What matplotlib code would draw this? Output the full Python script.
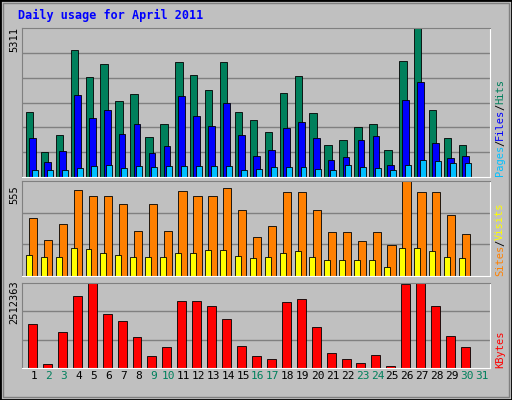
import matplotlib
matplotlib.use("Agg")
import matplotlib.pyplot as plt
import numpy as np

days = list(range(1, 31))
tick_labels = [str(d) for d in range(1, 32)]
weekend = [2, 3, 9, 10, 16, 17, 23, 24, 30, 31]

hits = [2317, 891, 1497, 4527, 3564, 4027, 2709, 2958, 1426, 1889, 4099, 3636, 3101, 4099, 2317,
        2032, 1604, 2994, 3600, 2281, 1141, 1319, 1782, 1889, 962, 4135, 5311, 2388, 1390, 1141]
files = [1390, 535, 927, 2922, 2103, 2388, 1533, 1889, 855, 1105, 2887, 2174, 1818, 2637, 1497,
         748, 962, 1746, 1960, 1390, 606, 713, 1319, 1461, 428, 2744, 3386, 1212, 677, 748]
pages = [249, 249, 249, 321, 392, 428, 321, 392, 356, 392, 392, 392, 392, 392, 249,
         285, 356, 356, 356, 285, 249, 428, 356, 321, 249, 428, 606, 570, 499, 499]
visits = [338, 211, 302, 501, 465, 465, 422, 265, 422, 265, 495, 465, 465, 513, 386,
          229, 290, 489, 489, 386, 259, 259, 205, 259, 181, 555, 489, 489, 356, 247]
sites = [121, 109, 109, 163, 157, 133, 121, 109, 109, 109, 133, 133, 151, 151, 115,
         103, 109, 133, 145, 109, 96, 96, 96, 96, 54, 163, 163, 145, 109, 103]
kbytes = [1286087, 119636, 1076724, 2123539, 2512363, 1585177, 1375814, 927179, 358908, 628089,
          1973994, 1973994, 1824449, 1435632, 658000, 358908, 269181, 1944085, 2033812, 1226269,
          448635, 269181, 149545, 388817, 59818, 2482454, 2512363, 1824449, 957088, 628089]

W, H = 512, 400
bg = "#c0c0c0"
fig = plt.figure(figsize=(W / 100, H / 100), dpi=100, facecolor=bg)

# outer bevel
fig.add_artist(plt.Rectangle((0, 0), 1, 1, transform=fig.transFigure, fill=False,
                             edgecolor="black", lw=2))
fig.add_artist(plt.Rectangle((3 / W, 3 / H), 1 - 6 / W, 1 - 6 / H, transform=fig.transFigure,
                             fill=False, edgecolor="#808080", lw=1))

x0, x1 = 22, 490
xlo = 1 - 12 / 14.93
xhi = 1 + 456 / 14.93


def panel(top, bottom, ymax, ndiv):
    ax = fig.add_axes([x0 / W, 1 - bottom / H, (x1 - x0) / W, (bottom - top) / H])
    ax.set_facecolor(bg)
    ax.set_xlim(xlo, xhi)
    ax.set_ylim(0, ymax)
    for k in range(1, ndiv):
        ax.axhline(ymax * k / ndiv, color="#808080", lw=1, zorder=0)
    ax.set_xticks([])
    ax.set_yticks([])
    for s in ["top", "left"]:
        ax.spines[s].set_color("#808080")
    for s in ["bottom", "right"]:
        ax.spines[s].set_color("white")
    return ax


d = np.array(days)
ax1 = panel(28, 177, 5311, 6)
ax1.bar(d - 0.3, hits, width=0.5, color="#00805c", edgecolor="black", lw=0.6)
ax1.bar(d - 0.1, files, width=0.45, color="#0000ff", edgecolor="black", lw=0.6)
ax1.bar(d + 0.05, pages, width=0.4, color="#00c0ff", edgecolor="black", lw=0.6)

ax2 = panel(181, 276, 555, 3)
ax2.bar(d - 0.05, visits, width=0.55, color="#ff8000", edgecolor="black", lw=0.6)
ax2.bar(d - 0.35, sites, width=0.4, color="#ffff00", edgecolor="black", lw=0.6)

ax3 = panel(283, 368, 2512363, 3)
ax3.bar(d - 0.1, kbytes, width=0.6, color="#ff0000", edgecolor="black", lw=0.6)

# day labels
for i, lab in enumerate(tick_labels):
    col = "#00805c" if (i + 1) in weekend else "black"
    ax3.text(i + 1, -0.03, lab, transform=ax3.get_xaxis_transform(), ha="center", va="top",
             fontsize=8, family="DejaVu Sans Mono", color=col)

fig.text(18 / W, 1 - 15 / H, "Daily usage for April 2011", color="#0000ff", fontsize=8.5,
         family="DejaVu Sans Mono", weight="bold", va="center")

mono = dict(family="DejaVu Sans Mono", fontsize=7.5, rotation=90)
fig.text(14 / W, 1 - 40 / H, "5311", ha="center", va="center", **mono)
fig.text(14 / W, 1 - 195 / H, "555", ha="center", va="center", **mono)
fig.text(14 / W, 1 - 302 / H, "2512363", ha="center", va="center", **mono)


def right_label(ybot, parts):
    y = ybot
    for txt, col in parts:
        fig.text(500 / W, 1 - y / H, txt, color=col, ha="center", va="bottom", **mono)
        y -= len(txt) * 6.0


right_label(176, [("Pages", "#00c0ff"), ("/", "black"), ("Files", "#0000ff"),
                  ("/", "black"), ("Hits", "#00805c")])
right_label(276, [("Sites", "#ff8000"), ("/", "black"), ("Visits", "#ffff00")])
right_label(368, [("KBytes", "#ff0000")])

fig.savefig("out.png", dpi=100, facecolor=bg)
